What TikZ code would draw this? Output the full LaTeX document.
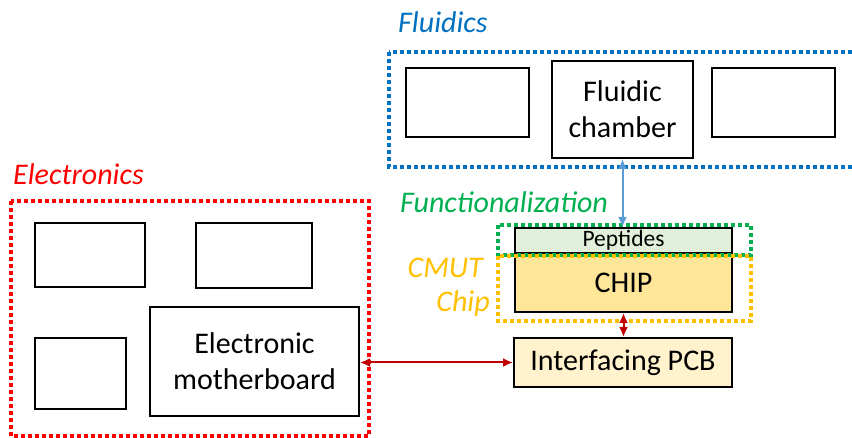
\documentclass[tikz,border=0pt]{standalone}
\usepackage{fontspec}
\setmainfont{Carlito}
\usetikzlibrary{arrows.meta}
\definecolor{cblue}{HTML}{0070C0}
\definecolor{cred}{HTML}{FF0000}
\definecolor{cgreen}{HTML}{00B050}
\definecolor{cyel}{HTML}{FFC000}
\definecolor{darkred}{HTML}{C00000}
\definecolor{lblue}{HTML}{5B9BD5}
\definecolor{pepfill}{HTML}{E2EFDA}
\definecolor{chipfill}{HTML}{FFE699}
\definecolor{pcbfill}{HTML}{FFF2CC}
\tikzset{
  blk/.style={draw=black, line width=2pt, rectangle, inner sep=0pt, align=center, font=\fontsize{30}{36}\selectfont},
  grp/.style={line width=4.2pt, dash pattern=on 4pt off 3pt},
  grplabel/.style={anchor=base west, inner sep=0pt, font=\fontsize{30}{36}\selectfont\itshape},
  link/.style={line width=2pt, {Latex[length=10pt,width=9pt]}-{Latex[length=10pt,width=9pt]}}
}
\begin{document}
\begin{tikzpicture}[x=1pt,y=-1pt]
\useasboundingbox (0,0) rectangle (852,438);
\clip (0,0) rectangle (852,438);
% group boxes
\draw[grp, cblue] (389,52) rectangle (880,167);
\draw[grp, cred] (11,201) rectangle (369,436);
% fluidics
\node[blk, minimum width=123pt, minimum height=69pt] (fl1) at (467.5,102.5) {};
\node[blk, minimum width=141pt, minimum height=97pt] (fc) at (622.5,109.5) {Fluidic\\chamber};
\node[blk, minimum width=123pt, minimum height=69pt] (fl3) at (773.5,102.5) {};
% electronics
\node[blk, minimum width=110pt, minimum height=64pt] (e1) at (90,255) {};
\node[blk, minimum width=116pt, minimum height=65pt] (e2) at (254,255.5) {};
\node[blk, minimum width=91pt, minimum height=71pt] (e3) at (80.5,373.5) {};
\node[blk, minimum width=209pt, minimum height=109pt] (mb) at (254.5,361.5) {Electronic\\motherboard};
% chip stack
\node[blk, fill=pepfill, minimum width=217pt, minimum height=25pt, font=\fontsize{23.5}{28}\selectfont] (pep) at (623.5,240.5) {Peptides};
\node[blk, fill=chipfill, minimum width=217pt, minimum height=59pt] (chip) at (623.5,282.5) {CHIP};
\node[blk, fill=pcbfill, minimum width=218pt, minimum height=49pt] (pcb) at (623,362.5) {Interfacing PCB};
\draw[grp, cgreen] (498,225) rectangle (751,255);
\draw[grp, cyel] (498,256) rectangle (751,321);
% labels
\node[grplabel, text=cblue] (lfl) at (398,33) {Fluidics};
\node[grplabel, text=cred] (lel) at (13,185) {Electronics};
\node[grplabel, text=cgreen] (lfn) at (400,213) {Functionalization};
\node[grplabel, text=cyel, anchor=base east] (lcm) at (483,278) {CMUT};
\node[grplabel, text=cyel, anchor=base east] (lch) at (490,312) {Chip};
% connectors
\draw[link, lblue] (pep.north -| fc.south) -- (fc.south);
\draw[link, darkred] (chip.south) -- (pcb.north -| chip.south);
\draw[link, darkred] (mb.east |- pcb.west) -- (pcb.west);
\end{tikzpicture}
\end{document}
